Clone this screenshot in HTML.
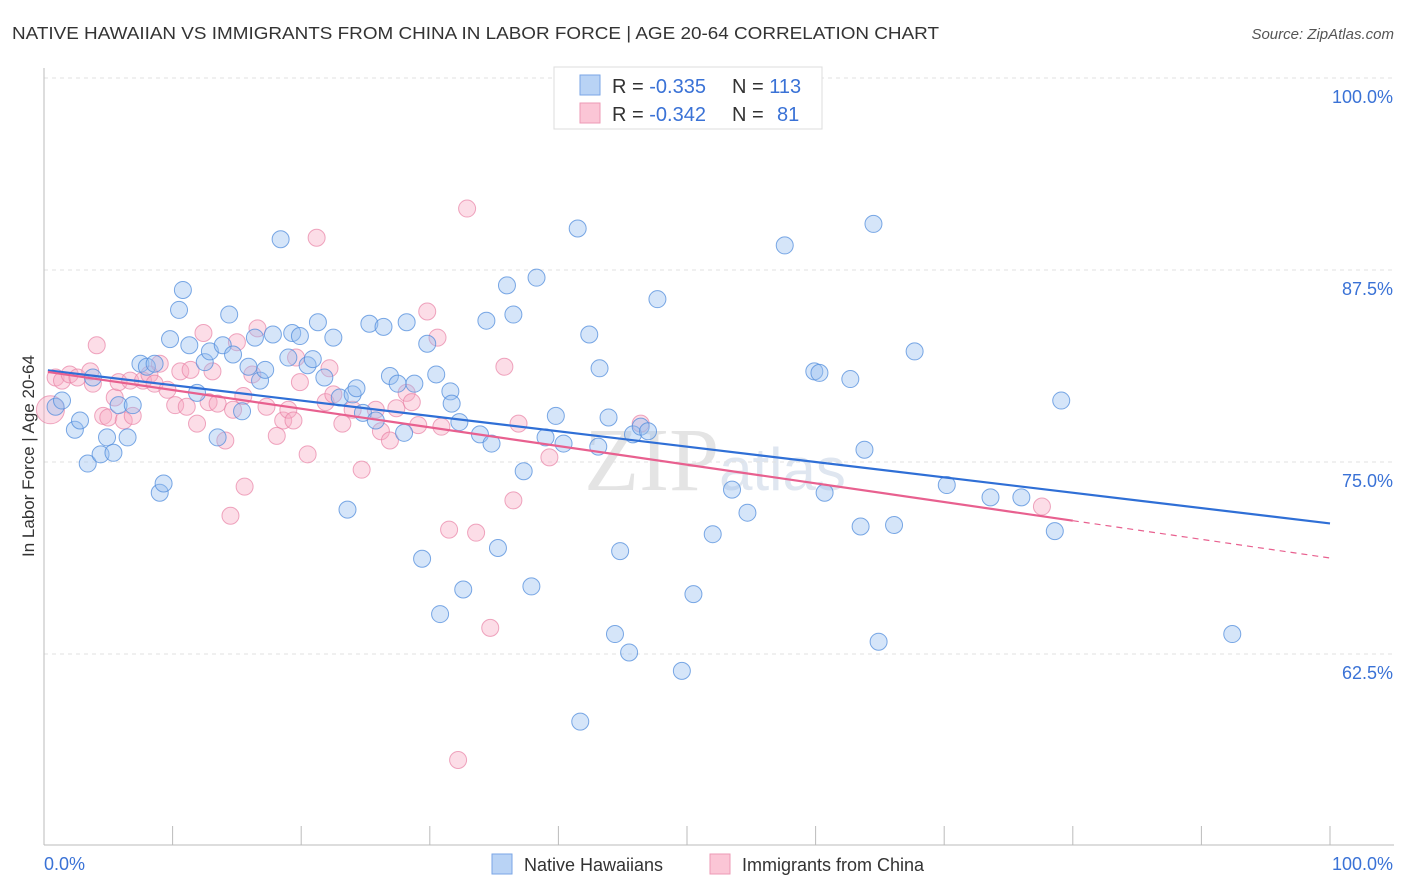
<!DOCTYPE html>
<html><head><meta charset="utf-8"><style>
body{margin:0;background:#fff;font-family:"Liberation Sans",sans-serif}
svg{display:block}
</style></head><body>
<svg id="chart" width="1406" height="892" xmlns="http://www.w3.org/2000/svg">
<text x="12" y="39" font-size="17.5" fill="#333" textLength="927" lengthAdjust="spacingAndGlyphs" font-family="Liberation Sans, sans-serif">NATIVE HAWAIIAN VS IMMIGRANTS FROM CHINA IN LABOR FORCE | AGE 20-64 CORRELATION CHART</text>
<text x="1394" y="39" font-size="15" fill="#555" text-anchor="end" font-style="italic">Source: ZipAtlas.com</text>
<text x="715" y="490" font-size="90" fill="#e4e4e4" text-anchor="middle" font-family="Liberation Serif, serif">ZIP<tspan font-family="Liberation Sans, sans-serif" font-size="60" fill="#dfe6f0">atlas</tspan></text>
<g id="grid"></g>
<g id="axes"></g>
<g id="pts"></g>
<g id="lines"></g>
<text transform="translate(34,456) rotate(-90)" font-size="17" fill="#333" text-anchor="middle">In Labor Force | Age 20-64</text>
<g>
<rect x="554" y="67" width="268" height="62" fill="#fff" stroke="#ddd"/>
<rect x="580" y="75" width="20" height="20" fill="#b9d3f5" stroke="#7aa6e6"/>
<rect x="580" y="103" width="20" height="20" fill="#fbc6d6" stroke="#ec9ab5"/>
<text x="612" y="93" font-size="20" fill="#333">R = <tspan fill="#3a72d6">-0.335</tspan><tspan x="732">N = </tspan><tspan fill="#3a72d6">113</tspan></text>
<text x="612" y="121" font-size="20" fill="#333">R = <tspan fill="#3a72d6">-0.342</tspan><tspan x="732">N = </tspan><tspan fill="#3a72d6" x="777">81</tspan></text>
</g>
<g>
<rect x="492" y="854" width="20" height="20" fill="#b9d3f5" stroke="#7aa6e6"/>
<text x="524" y="871" font-size="18" fill="#333">Native Hawaiians</text>
<rect x="710" y="854" width="20" height="20" fill="#fbc6d6" stroke="#ec9ab5"/>
<text x="742" y="871" font-size="18" fill="#333">Immigrants from China</text>
</g>
</svg>
<script>
const yTicks=[100,87.5,75,62.5];
const yTickLabels=["100.0%","87.5%","75.0%","62.5%"];
const xTickLabels=["0.0%","100.0%"];
const blueX=[0.9,1.4,2.4,2.8,3.4,3.8,4.4,4.9,5.4,5.8,6.5,6.9,7.5,8.0,8.6,9.0,9.3,9.8,10.5,10.8,11.3,11.9,12.5,12.9,13.5,13.9,14.4,14.7,15.4,15.9,16.4,16.8,17.2,17.8,18.4,19.0,19.3,19.9,20.5,20.9,21.3,21.8,22.5,23.0,23.6,24.0,24.3,24.8,25.3,25.8,26.4,26.9,27.5,28.0,28.2,28.8,29.4,29.8,30.5,30.8,31.6,31.7,32.3,32.6,33.9,34.4,34.8,35.3,36.0,36.5,37.3,37.9,38.3,39.0,39.8,40.4,41.5,41.7,42.4,43.1,43.2,43.9,44.4,44.8,45.5,45.8,46.4,46.97,47.7,49.6,50.5,52.0,53.5,54.7,57.6,59.9,60.3,60.7,62.7,63.5,63.8,64.5,64.9,66.1,67.7,70.2,73.6,76.0,78.6,79.1,92.4];
const blueY=[78.6,79.0,77.1,77.7,74.9,80.5,75.5,76.6,75.6,78.7,76.6,78.7,81.4,81.2,81.4,73.0,73.6,83.0,84.9,86.2,82.6,79.5,81.5,82.2,76.6,82.6,84.6,82.0,78.3,81.2,83.1,80.3,81.0,83.3,89.5,81.8,83.4,83.2,81.3,81.7,84.1,80.5,83.1,79.2,71.9,79.4,79.8,78.2,84.0,77.7,83.8,80.6,80.1,76.9,84.1,80.1,68.7,82.7,80.7,65.1,79.6,78.8,77.6,66.7,76.8,84.2,76.2,69.4,86.5,84.6,74.4,66.9,87.0,76.6,78.0,76.2,90.2,58.1,83.3,76.0,81.1,77.9,63.8,69.2,62.6,76.8,77.3,77.0,85.6,61.4,66.4,70.3,73.2,71.7,89.1,80.9,80.8,73.0,80.4,70.8,75.8,90.5,63.3,70.9,82.2,73.5,72.7,72.7,70.5,79.0,63.8];
const pinkX=[0.5,0.9,1.4,2.0,2.6,3.6,3.8,4.1,4.6,5.0,5.5,5.8,6.2,6.7,6.9,7.7,8.2,8.6,9.0,9.6,10.2,10.6,11.1,11.4,11.9,12.4,12.8,13.1,13.5,14.1,14.5,14.7,15.0,15.5,15.6,16.2,16.6,17.3,18.1,18.6,19.0,19.4,19.6,19.9,20.5,21.2,21.9,22.2,22.5,23.2,24.0,24.7,25.8,26.2,26.9,27.4,28.2,28.6,29.1,29.8,30.6,30.9,31.5,32.2,32.9,33.6,34.7,35.8,36.5,36.9,39.3,46.4,77.6];
const pinkY=[78.4,80.5,80.3,80.7,80.5,80.9,80.1,82.6,78.0,77.9,79.2,80.2,77.7,80.3,78.0,80.3,80.7,80.1,81.4,79.7,78.7,80.9,78.6,81.0,77.5,83.4,78.9,80.9,78.8,76.4,71.5,78.4,82.8,79.3,73.4,80.7,83.7,78.6,76.7,77.7,78.4,77.7,81.8,80.2,75.5,89.6,78.9,81.1,79.4,77.5,78.4,74.5,78.4,77.0,76.4,78.5,79.5,78.9,77.4,84.8,83.1,77.3,70.6,55.6,91.5,70.4,64.2,81.2,72.5,77.5,75.3,77.5,72.1];
const blueTrend=[81.0,71.0];
const pinkTrend=[80.9,68.75];
const pinkSolidEnd=[80];

const NS="http://www.w3.org/2000/svg";
const X0=44,X1=1330,Y100=78,PXPER=192/12.5;
const sx=v=>X0+(X1-X0)*v/100;
const sy=v=>Y100+(100-v)*PXPER;
function mk(t,a,p){const e=document.createElementNS(NS,t);for(const k in a)e.setAttribute(k,a[k]);p.appendChild(e);return e;}
const grid=document.getElementById('grid'),axes=document.getElementById('axes'),pts=document.getElementById('pts'),lines=document.getElementById('lines');
yTicks.forEach((t,i)=>{
  const g=mk('line',{x1:44,x2:1394,y1:sy(t),y2:sy(t),stroke:'#e2e2e2','stroke-dasharray':'4,4'},grid);
  
  
  const tx=mk('text',{x:1393,y:sy(t)+25,'font-size':18,fill:'#3a72d6','text-anchor':'end'},axes);
  tx.textContent=yTickLabels[i];
  
  
});
const ax=mk('line',{x1:44,x2:44,y1:68,y2:845,stroke:'#bbb'},axes);


const bx=mk('line',{x1:44,x2:1394,y1:845,y2:845,stroke:'#bbb'},axes);


for(let i=1;i<=10;i++){
  const tk=mk('line',{x1:sx(i*10),x2:sx(i*10),y1:826,y2:845,stroke:'#bbb'},axes);
  
  
}
const xl0=mk('text',{x:44,y:870,'font-size':18,fill:'#3a72d6'},axes);xl0.textContent=xTickLabels[0];


const xl1=mk('text',{x:1393,y:870,'font-size':18,fill:'#3a72d6','text-anchor':'end'},axes);xl1.textContent=xTickLabels[1];



pinkX.forEach((x,i)=>{
  const c=mk('circle',{cx:sx(x),cy:sy(pinkY[i]),r:i==0?14:8.5,fill:'rgba(247,170,195,0.4)',stroke:'rgba(232,130,165,0.7)','stroke-width':1},pts);
  
  
});
blueX.forEach((x,i)=>{
  const c=mk('circle',{cx:sx(x),cy:sy(blueY[i]),r:8.5,fill:'rgba(150,190,240,0.4)',stroke:'rgba(80,140,220,0.75)','stroke-width':1},pts);
  
  
});
const tv=(tr,x)=>tr[0]+(tr[1]-tr[0])*x/100;
const bl=mk('line',{x1:sx(0.3),y1:sy(tv(blueTrend,0.3)),x2:sx(100),y2:sy(tv(blueTrend,100)),stroke:'#2f6fd6','stroke-width':2.2},lines);


const pl=mk('line',{x1:sx(0.3),y1:sy(tv(pinkTrend,0.3)),x2:sx(pinkSolidEnd[0]),y2:sy(tv(pinkTrend,pinkSolidEnd[0])),stroke:'#e8608f','stroke-width':2.2},lines);


const pd=mk('line',{x1:sx(pinkSolidEnd[0]),y1:sy(tv(pinkTrend,pinkSolidEnd[0])),x2:sx(100),y2:sy(tv(pinkTrend,100)),stroke:'#e8608f','stroke-width':1.2,'stroke-dasharray':'6,5'},lines);


</script>
</body></html>
